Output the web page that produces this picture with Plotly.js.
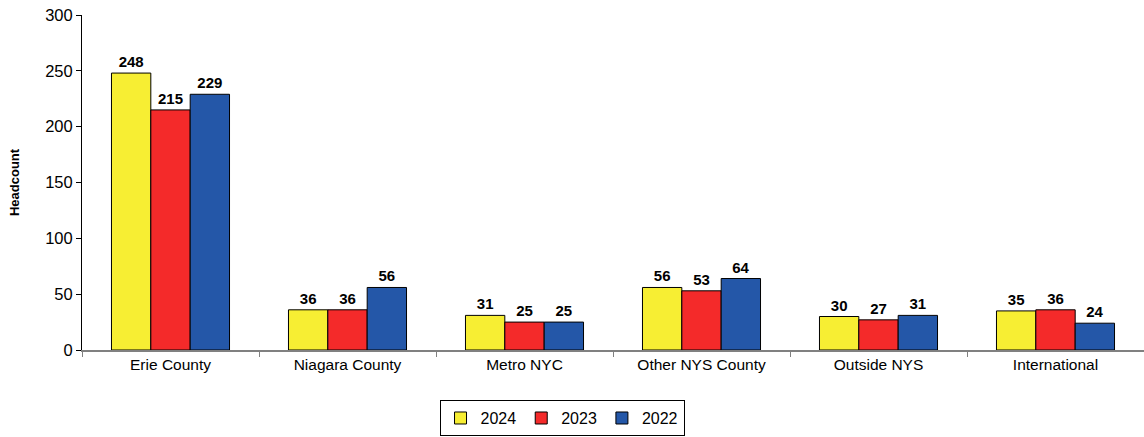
<!DOCTYPE html>
<html><head><meta charset="utf-8">
<script src="https://cdn.plot.ly/plotly-3.0.1.min.js"></script>
<style>html,body{margin:0;padding:0;background:#fff}#chart{width:1144px;height:437px}</style>
</head><body><div id="chart"></div>
<script>
const categories = ["Erie County","Niagara County","Metro NYC","Other NYS County","Outside NYS","International"];
const series2024 = [248,36,31,56,30,35];
const series2023 = [215,36,25,53,27,36];
const series2022 = [229,56,25,64,31,24];
const seriesNames = ["2024","2023","2022"];
const yTicks = [0,50,100,150,200,250,300];

const colors = ["#F7EE33","#F42A2A","#2457A8"];
const font = "Liberation Sans, Arial, sans-serif";
const data = [series2024, series2023, series2022].map((vals,i)=>({
  type:"bar", x:categories, y:vals, name:seriesNames[i],
  marker:{color:colors[i], line:{color:"#000", width:1}},
  text:vals.map(String), textposition:"outside", cliponaxis:false,
  textfont:{family:font, size:15, color:"#000", weight:"bold"},
  hoverinfo:"none"
}));
const layout = {
  width:1144, height:437,
  margin:{l:82, r:0, t:15, b:87, autoexpand:false},
  paper_bgcolor:"#fff", plot_bgcolor:"#fff",
  barmode:"group", bargap:0.333, bargroupgap:0,
  font:{family:font, size:15, color:"#000"},
  xaxis:{showline:true, linecolor:"#808080", linewidth:1.5, ticks:"outside", tickson:"boundaries",
    ticklen:5, tickcolor:"#808080", tickfont:{size:15.5}, showgrid:false, fixedrange:true, automargin:false},
  yaxis:{range:[0,300], tickvals:yTicks, showline:true, linecolor:"#000", linewidth:1, ticks:"outside",
    ticklen:5, tickcolor:"#000", showgrid:false, zeroline:false, tickfont:{size:16.5}, automargin:false,
    title:{text:"<b>Headcount</b>", font:{size:13}, standoff:22}},
  showlegend:true,
  legend:{orientation:"h", x:0.452, xanchor:"center", y:-0.257, yanchor:"bottom", xref:"paper",
    bordercolor:"#000", borderwidth:1, font:{size:16}, itemwidth:30, traceorder:"normal",
    tracegroupgap:0}
};
Plotly.newPlot("chart", data, layout, {displayModeBar:false, staticPlot:true});
</script></body></html>
